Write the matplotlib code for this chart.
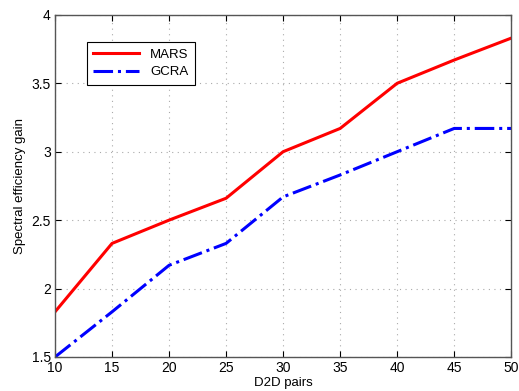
import numpy as np
import matplotlib
matplotlib.use('Agg')
import matplotlib.pyplot as plt

plt.rcParams['font.family'] = ['Liberation Sans', 'DejaVu Sans']

# data
d2d_pairs = [10, 15, 20, 25, 30, 35, 40, 45, 50]
mars = [1.83, 2.33, 2.5, 2.66, 3.0, 3.17, 3.5, 3.67, 3.83]
gcra = [1.5, 1.83, 2.17, 2.33, 2.67, 2.83, 3.0, 3.17, 3.17]

fig = plt.figure(figsize=(5.19, 3.91), dpi=100)
ax = fig.add_axes([0.106, 0.087, 0.879, 0.875])

ax.plot(d2d_pairs, mars, color='#ff0000', linewidth=2.2, label='MARS')
ax.plot(d2d_pairs, gcra, color='#0000ff', linewidth=2.2, linestyle='-.', label='GCRA')

ax.set_xlim(10, 50)
ax.set_ylim(1.5, 4)
ax.set_xticks(np.arange(10, 51, 5))
ax.set_yticks([1.5, 2, 2.5, 3, 3.5, 4])
ax.set_yticklabels(['1.5', '2', '2.5', '3', '3.5', '4'])
ax.grid(True, linestyle=(0, (1, 4)), color='#aaaaaa', linewidth=0.8)
ax.tick_params(direction='in', labelsize=10, length=4, top=True, right=True, pad=3)
for s in ax.spines.values():
    s.set_color('#555555')
    s.set_linewidth(1.0)
ax.set_xlabel('D2D pairs', fontsize=9.5, labelpad=1)
ax.set_ylabel('Spectral efficiency gain', fontsize=9.5, labelpad=4)

leg = ax.legend(loc='upper left', bbox_to_anchor=(0.055, 0.94), fontsize=9.5,
                fancybox=False, edgecolor='black', framealpha=1,
                handlelength=3.5, borderpad=0.5, labelspacing=0.4)
leg.get_frame().set_linewidth(0.8)

plt.savefig('out.png', dpi=100)
